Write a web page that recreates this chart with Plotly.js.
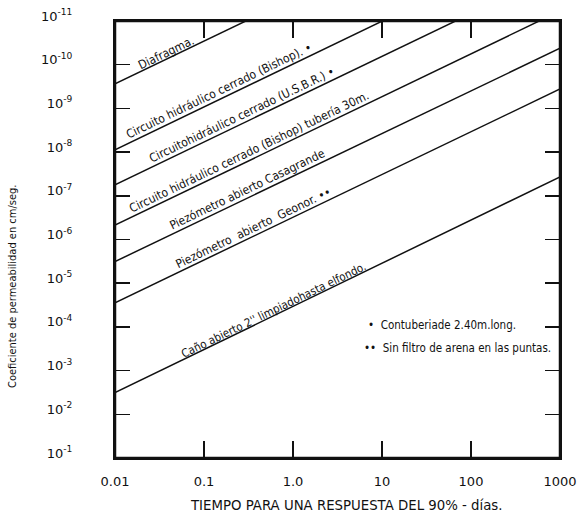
<!DOCTYPE html>
<html>
<head>
<meta charset="utf-8">
<script src="https://cdn.plot.ly/plotly-3.0.1.min.js"></script>
<style>html,body{margin:0;padding:0;background:#fff;}#chart{width:582px;height:526px;}</style>
</head>
<body>
<div id="chart"></div>
<script>
// ---- data ----
const seriesNames = [
  "Diafragma.",
  "Circuito hidráulico cerrado (Bishop). •",
  "Circuitohidráulico cerrado (U.S.B.R.) •",
  "Circuito hidráulico cerrado (Bishop) tubería 30m.",
  "Piezómetro abierto Casagrande",
  "Piezómetro  abierto  Geonor. ••",
  "Caño abierto 2'' limpiadohasta elfondo."
];
const timeEnds = [0.01, 1000];                       // days
const kAtStart = [2.75e-10, 8.9e-9, 5.6e-8, 4.7e-7, 3.2e-6, 2.8e-5, 3.2e-3]; // cm/seg at 0.01 days
const kAtEnd   = [3.5e-15, 1.1e-13, 7.1e-13, 5.9e-12, 4.2e-11, 3.6e-10, 3.7e-8]; // cm/seg at 1000 days
const labelTime = [0.04, 0.16, 0.29, 0.35, 0.34, 0.39, 0.64];

const xTickVals = [0.01, 0.1, 1, 10, 100, 1000];
const xTickText = ["0.01", "0.1", "1.0", "10", "100", "1000"];
const yTickExp = [-11, -10, -9, -8, -7, -6, -5, -4, -3, -2, -1];
const yTickVals = yTickExp.map(e => Math.pow(10, e));
const yTickText = yTickExp.map(e => "10<sup>" + e + "</sup>");

const notes = ["•  Contuberiade 2.40m.long.", "••  Sin filtro de arena en las puntas."];

// ---- build ----
const W = 582, H = 526;
const M = {l: 115, r: 22, t: 21, b: 68};
const plotW = W - M.l - M.r, plotH = H - M.t - M.b;
const xDec = 5, yDec = 10;
// pixel (page) -> paper coords
const px = v => (v - M.l) / plotW;
const py = v => (H - M.b - v) / plotH;

const traces = seriesNames.map((n, i) => ({
  x: timeEnds, y: [kAtStart[i], kAtEnd[i]], type: 'scatter', mode: 'lines',
  line: {color: '#111', width: 1.5}, hoverinfo: 'skip', showlegend: false, name: n
}));

const fam = 'Liberation Sans Narrow, DejaVu Sans Condensed, Liberation Sans, sans-serif';
const lblSizes = [12, 12, 12, 12, 12, 12, 11.5];
const lblOffset = [6, 8, 8, 8, 8, 8, 5];
const annotations = seriesNames.map((n, i) => {
  const lx0 = Math.log10(timeEnds[0]), lx1 = Math.log10(timeEnds[1]);
  const ly0 = Math.log10(kAtStart[i]), ly1 = Math.log10(kAtEnd[i]);
  const lx = Math.log10(labelTime[i]);
  const ly = ly0 + (ly1 - ly0) * (lx - lx0) / (lx1 - lx0);
  const slopePx = ((ly0 - ly1) / (lx1 - lx0)) * (plotH / yDec) / (plotW / xDec);
  const ang = Math.atan(slopePx);
  const d = lblOffset[i];
  return {
    x: lx, y: ly, xref: 'x', yref: 'y', text: n, showarrow: false,
    textangle: -ang * 180 / Math.PI, font: {family: fam, size: lblSizes[i], color: '#111'},
    xshift: -Math.sin(ang) * d, yshift: Math.cos(ang) * d,
    xanchor: 'center', yanchor: 'middle'
  };
});

const noteFont = {family: fam, size: 11.5, color: '#111'};
annotations.push({x: px(366), y: py(325), xref: 'paper', yref: 'paper', text: notes[0], showarrow: false, xanchor: 'left', yanchor: 'middle', font: noteFont});
annotations.push({x: px(362), y: py(348), xref: 'paper', yref: 'paper', text: notes[1], showarrow: false, xanchor: 'left', yanchor: 'middle', font: noteFont});

annotations.push({x: px(12), y: py(287), xref: 'paper', yref: 'paper', text: 'Coeficiente de permeabilidad en cm/seg.', textangle: -90, showarrow: false, xanchor: 'center', yanchor: 'middle', font: {family: fam, size: 11, color: '#111'}});
annotations.push({x: px(346), y: py(505), xref: 'paper', yref: 'paper', text: 'TIEMPO PARA UNA RESPUESTA DEL 90% - días.', showarrow: false, xanchor: 'center', yanchor: 'middle', font: {family: 'DejaVu Sans, sans-serif', size: 13.3, color: '#111'}});

const tickFont = {family: 'DejaVu Sans, sans-serif', size: 13, color: '#111'};
const layout = {
  width: W, height: H, margin: M, paper_bgcolor: '#fff', plot_bgcolor: '#fff',
  showlegend: false,
  xaxis: {type: 'log', range: [-2, 3], tickvals: xTickVals, ticktext: xTickText,
    ticks: 'inside', ticklen: 17, tickwidth: 1.5, tickcolor: '#111', mirror: 'ticks',
    showline: true, linecolor: '#111', linewidth: 2, showgrid: false, zeroline: false,
    tickfont: tickFont, ticklabelstandoff: 10},
  yaxis: {type: 'log', range: [-1, -11], tickvals: yTickVals, ticktext: yTickText,
    ticks: 'inside', ticklen: 15, tickwidth: 1.5, tickcolor: '#111', mirror: 'ticks',
    showline: true, linecolor: '#111', linewidth: 2, showgrid: false, zeroline: false,
    tickfont: tickFont, ticklabelstandoff: 38, ticklabelshift: 5},
  shapes: [{type: 'rect', xref: 'paper', yref: 'paper', x0: 0, x1: 1, y0: 0, y1: 1,
    line: {color: '#111', width: 2.5}, layer: 'above'}],
  annotations: annotations
};

Plotly.newPlot('chart', traces, layout, {staticPlot: true, displayModeBar: false});
</script>
</body>
</html>
